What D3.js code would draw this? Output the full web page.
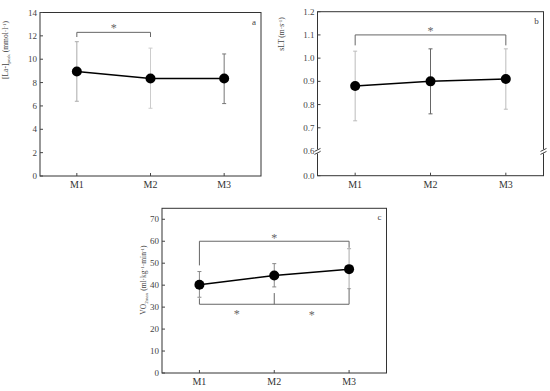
<!DOCTYPE html>
<html>
<head>
<meta charset="utf-8">
<script src="https://cdn.jsdelivr.net/npm/d3@7"></script>
<style>
  body { margin: 0; background: #fff; }
  svg text { font-family: "Liberation Serif", "DejaVu Serif", serif; }
</style>
</head>
<body>
<div id="chart"></div>
<script>
// data
const groups = ["M1", "M2", "M3"];

const laMean = [8.95, 8.35, 8.35];
const laLow = [6.4, 5.8, 6.2];
const laHigh = [11.5, 10.95, 10.45];
const laTicks = [0, 2, 4, 6, 8, 10, 12, 14];

const sltMean = [0.88, 0.90, 0.91];
const sltLow = [0.73, 0.76, 0.78];
const sltHigh = [1.03, 1.04, 1.04];
const sltTicks = [0, 0.6, 0.7, 0.8, 0.9, 1.0, 1.1, 1.2];

const voMean = [40.2, 44.4, 47.3];
const voLow = [34.5, 39.2, 38.4];
const voHigh = [46.2, 49.8, 56.6];
const voTicks = [0, 10, 20, 30, 40, 50, 60, 70];

// brackets: [from, to, level, end of legs]
const laBrackets = [[1, 2, 12.3, 11.9]];
const sltBrackets = [[1, 3, 1.1, 1.055]];
const voBracketTop = [1, 3, 60, 49, 57];
const voBracketBottom = [31.3, 34, 36.4, 38.5];

const svg = d3.select("#chart").append("svg")
  .attr("width", 550)
  .attr("height", 391);

const errColors = [["#aaa", "#ccc", "#777"], ["#bbb", "#666", "#bbb"], ["#888", "#888", "#aaa"]];

function panel(opts) {
  const g = svg.append("g");
  const x = d3.scaleLinear().domain([0.5, 3.5]).range(opts.xr);
  const y = opts.y;
  const [x0, x1] = opts.xr;
  const yb = y.range()[0], yt = y.range()[y.range().length - 1];

  // box
  g.append("rect")
    .attr("x", x0).attr("y", yt)
    .attr("width", x1 - x0).attr("height", yb - yt)
    .attr("fill", "none").attr("stroke", "#333").attr("stroke-width", 1);

  // y ticks (inward)
  const yt_ = g.selectAll(".yt").data(opts.ticks).enter().append("g");
  yt_.append("line")
    .attr("x1", x0).attr("x2", x0 + 3)
    .attr("y1", d => y(d)).attr("y2", d => y(d))
    .attr("stroke", "#444");
  yt_.append("text")
    .attr("x", x0 - 3).attr("y", d => y(d) + 3)
    .attr("text-anchor", "end")
    .attr("font-size", 9).attr("fill", "#444")
    .text(opts.fmt);

  // x ticks
  const xt = g.selectAll(".xt").data(groups).enter().append("g");
  xt.append("line")
    .attr("x1", (d, i) => x(i + 1)).attr("x2", (d, i) => x(i + 1))
    .attr("y1", yb).attr("y2", yb - 3)
    .attr("stroke", "#444");
  xt.append("text")
    .attr("x", (d, i) => x(i + 1)).attr("y", yb + 12)
    .attr("text-anchor", "middle")
    .attr("font-size", 10).attr("fill", "#333")
    .text(d => d);

  // y label
  g.append("text")
    .attr("transform", "translate(" + opts.lab[0] + "," + opts.lab[1] + ") rotate(-90)")
    .attr("text-anchor", "middle")
    .attr("font-size", 7.5).attr("fill", "#444")
    .html(opts.label);

  // panel letter
  g.append("text")
    .attr("x", x1 - 7).attr("y", yt + 12)
    .attr("text-anchor", "middle")
    .attr("font-size", 9).attr("fill", "#444")
    .text(opts.letter);

  // error bars
  const eb = g.selectAll(".eb").data(opts.mean).enter().append("g")
    .attr("stroke", (d, i) => errColors[opts.idx][i]).attr("stroke-width", 1);
  eb.append("line")
    .attr("x1", (d, i) => x(i + 1)).attr("x2", (d, i) => x(i + 1))
    .attr("y1", (d, i) => y(opts.low[i])).attr("y2", (d, i) => y(opts.high[i]));
  eb.append("line")
    .attr("x1", (d, i) => x(i + 1) - 2).attr("x2", (d, i) => x(i + 1) + 2)
    .attr("y1", (d, i) => y(opts.low[i])).attr("y2", (d, i) => y(opts.low[i]));
  eb.append("line")
    .attr("x1", (d, i) => x(i + 1) - 2).attr("x2", (d, i) => x(i + 1) + 2)
    .attr("y1", (d, i) => y(opts.high[i])).attr("y2", (d, i) => y(opts.high[i]));

  // mean line + points
  g.append("path")
    .datum(opts.mean)
    .attr("d", d3.line().x((d, i) => x(i + 1)).y(d => y(d)))
    .attr("fill", "none").attr("stroke", "#000").attr("stroke-width", 1.5);
  g.selectAll(".pt").data(opts.mean).enter().append("circle")
    .attr("cx", (d, i) => x(i + 1)).attr("cy", d => y(d))
    .attr("r", 5).attr("fill", "#000");

  return { g, x, y };
}

function bracket(p, b) {
  const [f, t, lvl, leg] = b;
  p.g.append("path")
    .attr("d", "M" + p.x(f) + "," + p.y(leg) + "V" + p.y(lvl) + "H" + p.x(t) + "V" + p.y(leg))
    .attr("fill", "none").attr("stroke", "#666");
}
function star(p, xv, yv) {
  p.g.append("text")
    .attr("x", p.x(xv)).attr("y", p.y(yv) + 6)
    .attr("text-anchor", "middle")
    .attr("font-size", 12).attr("fill", "#666")
    .text("*");
}

// panel a
const pa = panel({
  idx: 0, xr: [40, 261], y: d3.scaleLinear().domain([0, 14]).range([176, 12.5]),
  ticks: laTicks, fmt: d => d, mean: laMean, low: laLow, high: laHigh,
  lab: [8, 50], letter: "a",
  label: "[La-]<tspan font-size='5' dy='1.5'>peak</tspan><tspan dy='-1.5'> (mmol·l</tspan><tspan font-size='5' dy='-2.5'>-1</tspan><tspan dy='2.5'>)</tspan>"
});
laBrackets.forEach(b => { bracket(pa, b); star(pa, (b[0] + b[1]) / 2, 12.85); });

// panel b (broken axis between 0.0 and 0.6)
const pb = panel({
  idx: 1, xr: [317.5, 543.5], y: d3.scaleLinear().domain([0, 0.6, 1.2]).range([175.7, 151, 11.7]),
  ticks: sltTicks, fmt: d => d.toFixed(1), mean: sltMean, low: sltLow, high: sltHigh,
  lab: [284, 34], letter: "b",
  label: "sLT (m·s<tspan font-size='5' dy='-2.5'>-1</tspan><tspan dy='2.5'>)</tspan>"
});
sltBrackets.forEach(b => { bracket(pb, b); star(pb, (b[0] + b[1]) / 2, 1.125); });
// break marks
[317.5, 543.5].forEach(xx => {
  const yy = pb.y(0.59);
  pb.g.append("rect").attr("x", xx - 3).attr("y", yy - 2).attr("width", 6).attr("height", 4).attr("fill", "#fff");
  [-1.5, 1.5].forEach(o => pb.g.append("line")
    .attr("x1", xx - 3).attr("x2", xx + 3)
    .attr("y1", yy + o + 1.5).attr("y2", yy + o - 1.5)
    .attr("stroke", "#444"));
});

// panel c
const pc = panel({
  idx: 2, xr: [162, 386.5], y: d3.scaleLinear().domain([0, 75]).range([373, 208.3]),
  ticks: voTicks, fmt: d => d, mean: voMean, low: voLow, high: voHigh,
  lab: [146, 280], letter: "c",
  label: "VO<tspan font-size='5' dy='1.5'>2max</tspan><tspan dy='-1.5'> (ml·kg</tspan><tspan font-size='5' dy='-2.5'>-1</tspan><tspan dy='2.5'>·min</tspan><tspan font-size='5' dy='-2.5'>-1</tspan><tspan dy='2.5'>)</tspan>"
});
{
  const [f, t, lvl, legL, legR] = voBracketTop;
  pc.g.append("path")
    .attr("d", "M" + pc.x(f) + "," + pc.y(legL) + "V" + pc.y(lvl) + "H" + pc.x(t) + "V" + pc.y(legR))
    .attr("fill", "none").attr("stroke", "#666");
  star(pc, 2, 62.2);
  const [bl, l1, l2, l3] = voBracketBottom;
  pc.g.append("path")
    .attr("d", "M" + pc.x(1) + "," + pc.y(l1) + "V" + pc.y(bl) + "H" + pc.x(3) + "V" + pc.y(l3)
      + "M" + pc.x(2) + "," + pc.y(bl) + "V" + pc.y(l2))
    .attr("fill", "none").attr("stroke", "#666");
  star(pc, 1.5, 27.9);
  star(pc, 2.5, 27.3);
}
</script>
</body>
</html>
